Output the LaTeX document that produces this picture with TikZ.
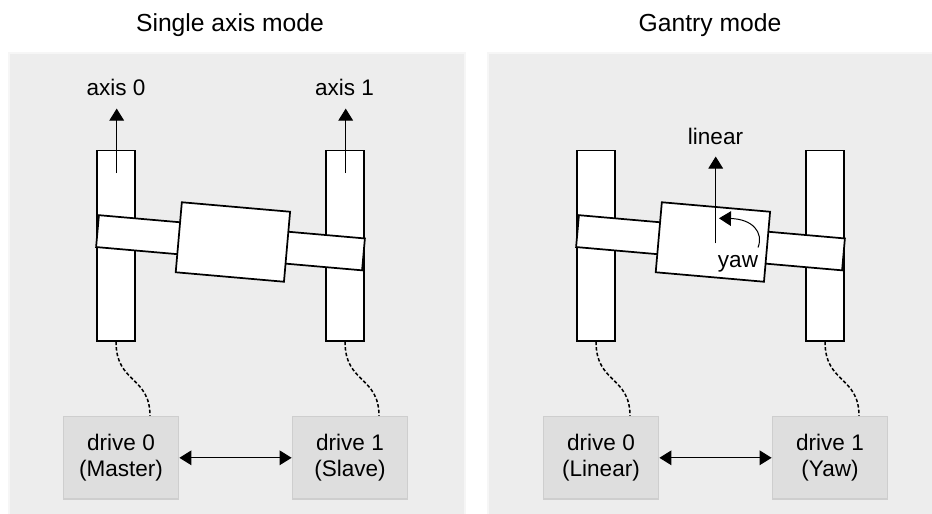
\documentclass[tikz,border=0pt]{standalone}
\usepackage{fontspec}
\setmainfont{Liberation Sans}
\usetikzlibrary{arrows.meta}

\begin{document}
\begin{tikzpicture}[x=0.75pt,y=0.75pt,yscale=-1,xscale=1,
  lbl/.style={font=\fontsize{16.9}{20}\selectfont},
  ttl/.style={font=\fontsize{18.5}{22}\selectfont},
  panel/.style={draw={rgb, 255:red, 246; green, 246; blue, 246 }, line width=1.5pt, fill={rgb, 255:red, 237; green, 237; blue, 237 }},
  rail/.style={draw, line width=1.3pt, fill=white, inner sep=0pt, minimum width=28.9pt, minimum height=142.7pt},
  beam/.style={draw, line width=1.3pt, fill=white, inner sep=0pt, minimum width=200.25pt, minimum height=24pt, rotate=-5},
  cart/.style={draw, line width=1.3pt, fill=white, inner sep=0pt, minimum width=81.5pt, minimum height=52.7pt, rotate=-5},
  drive/.style={lbl, draw={rgb, 255:red, 206; green, 206; blue, 206 }, line width=1.1pt, fill={rgb, 255:red, 222; green, 222; blue, 222 }, align=center, inner sep=0pt, minimum width=86.5pt, minimum height=61.7pt},
  wire/.style={line width=1.15pt, dash pattern=on 2.6pt off 1.6pt},
  tip/.style={-{Triangle[width=11pt,length=9pt]}, line width=0.75pt},
  twotip/.style={{Triangle[width=11pt,length=9pt]}-{Triangle[width=11pt,length=9pt]}, line width=0.75pt}
]
\useasboundingbox (0,0) rectangle (932,514);

%Shape: Rectangle [panels]
\draw [panel] (8.5,52.5) rectangle (465,520) ;
\draw [panel] (488,52.5) rectangle (940,520) ;

% Text Node
\node [ttl, anchor=base] (sgltitle) at (230,31.7) {Single axis mode};
% Text Node
\node [ttl, anchor=base] (gtytitle) at (710,31.7) {Gantry mode};

%%%%% single axis mode
%Shape: Rectangle [rails]
\node [rail] (sglrail0) at (116,245.6) {};
\node [rail] (sglrail1) at (345,245.6) {};
%Shape: Rectangle [beam and carriage]
\node [beam] (sglbeam) at (230.5,242.75) {};
\node [cart] (sglcart) at (232.9,242) {};

% Text Node
\node [lbl, anchor=base] (sglaxis0) at (116,95) {axis 0};
% Text Node
\node [lbl, anchor=base] (sglaxis1) at (344.5,95) {axis 1};
%Straight Lines
\coordinate (sglfoot0) at (116.7,173) ;
\coordinate (sglfoot1) at (345.7,173) ;
\draw [tip, shorten >=6.5pt] (sglfoot0) -- (sglfoot0 |- sglaxis0.south) ;
\draw [tip, shorten >=6.5pt] (sglfoot1) -- (sglfoot1 |- sglaxis1.south) ;

% Text Node
\node [drive] (sgldrive0) at (121,457.8) {drive 0\\(Master)};
% Text Node
\node [drive] (sgldrive1) at (350,457.8) {drive 1\\(Slave)};
%Straight Lines
\draw [twotip] (sgldrive0) -- (sgldrive1) ;
%Curve Lines
\draw [wire] (sglrail0.south) .. controls +(0,42) and +(0,-40) .. ([xshift=21.75pt]sgldrive0.north) ;
\draw [wire] (sglrail1.south) .. controls +(0,42) and +(0,-40) .. ([xshift=21.75pt]sgldrive1.north) ;

%%%%% gantry mode
%Shape: Rectangle [rails]
\node [rail] (gtyrail0) at (596,245.6) {};
\node [rail] (gtyrail1) at (825,245.6) {};
%Shape: Rectangle [beam and carriage]
\node [beam] (gtybeam) at (710.5,242.75) {};
\node [cart] (gtycart) at (712.9,242) {};

% Text Node
\node [lbl, anchor=base] (gtylinear) at (715.5,144) {linear};
%Straight Lines
\coordinate (gtyfoot) at (715.7,243.3) ;
\draw [tip, shorten >=5.7pt] (gtyfoot) -- (gtyfoot |- gtylinear.south) ;
% Text Node
\node [lbl, anchor=base] (gtyyaw) at (738,267.7) {yaw};
%Curve Lines
\coordinate (gtyyaw0) at (758,247.5) ;
\coordinate (gtyyaw1) at (719,218.3) ;
\draw [tip] (gtyyaw0) .. controls (764,232) and (752,219) .. (gtyyaw1) ;

% Text Node
\node [drive] (gtydrive0) at (601,457.8) {drive 0\\(Linear)};
% Text Node
\node [drive] (gtydrive1) at (830,457.8) {drive 1\\(Yaw)};
%Straight Lines
\draw [twotip] (gtydrive0) -- (gtydrive1) ;
%Curve Lines
\draw [wire] (gtyrail0.south) .. controls +(0,42) and +(0,-40) .. ([xshift=21.75pt]gtydrive0.north) ;
\draw [wire] (gtyrail1.south) .. controls +(0,42) and +(0,-40) .. ([xshift=21.75pt]gtydrive1.north) ;

\end{tikzpicture}
\end{document}
